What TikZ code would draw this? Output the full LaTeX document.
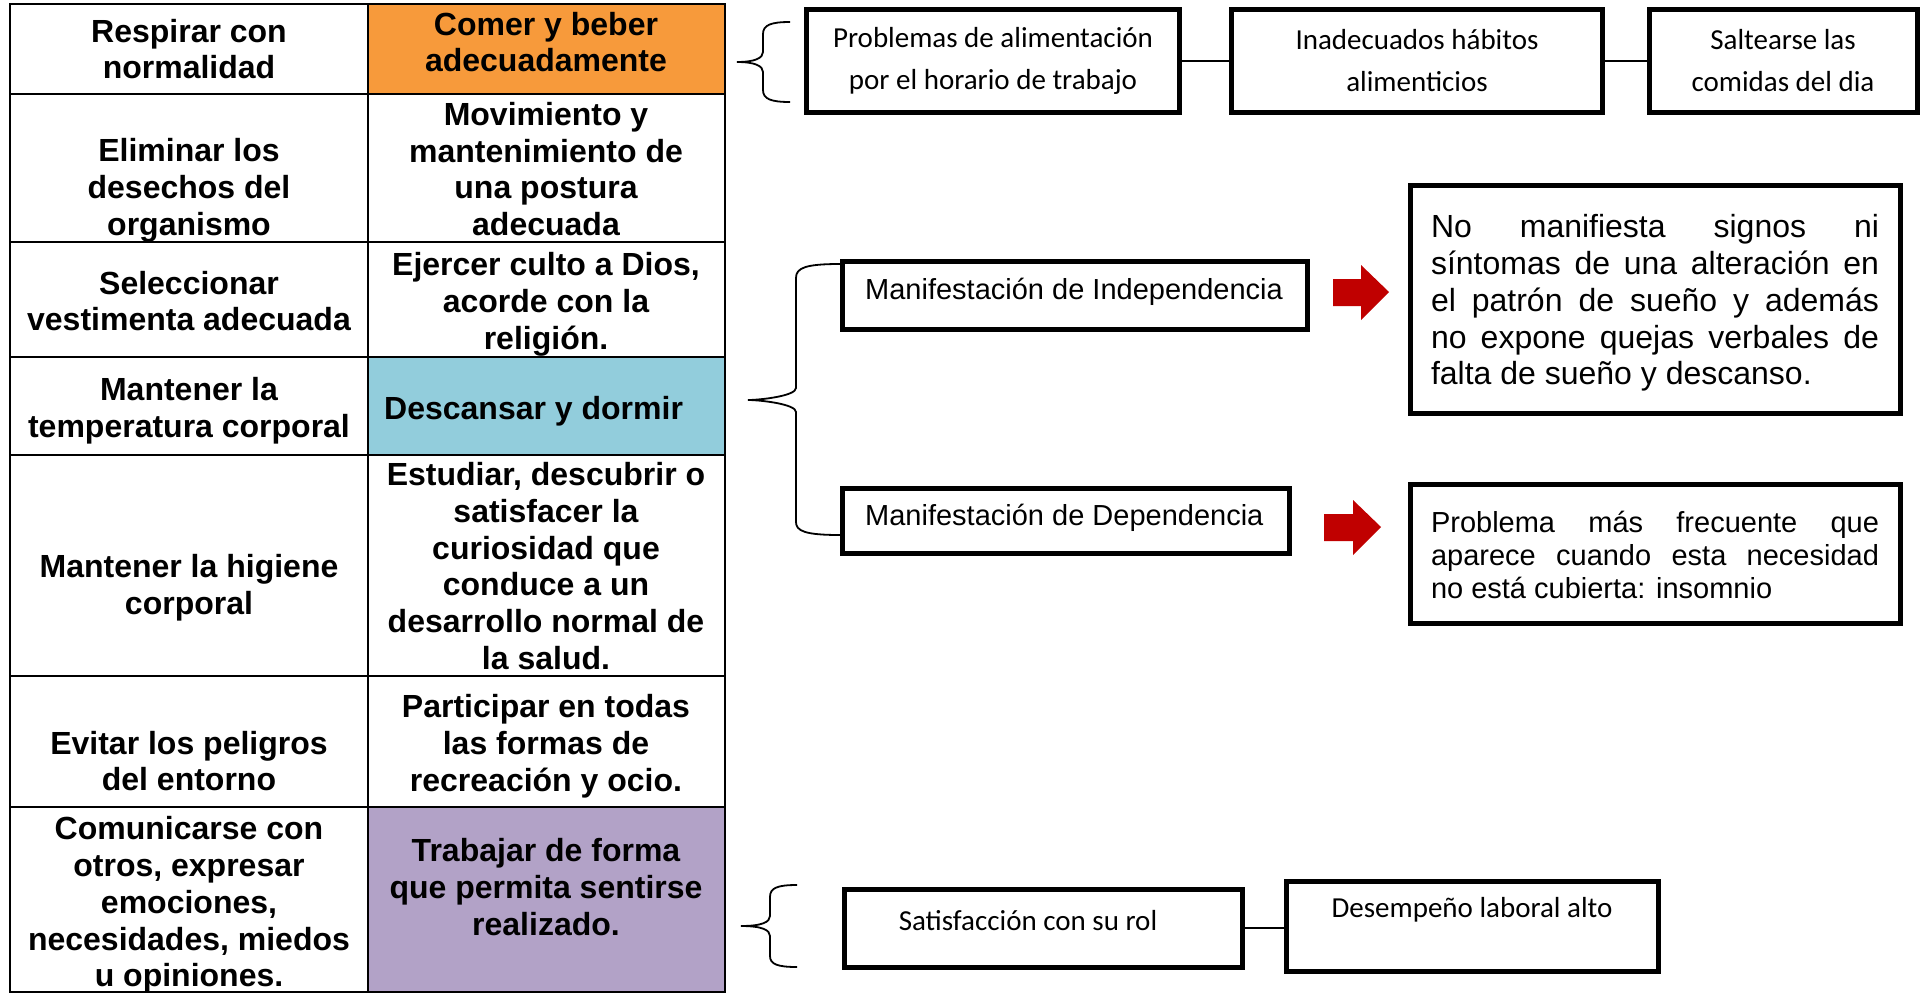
\documentclass[tikz,border=0pt]{standalone}
\usepackage{fontspec}
\setmainfont{Liberation Sans}
\newfontfamily\carl{Carlito}
\definecolor{orangec}{HTML}{F79A3B}
\definecolor{bluec}{HTML}{92CDDC}
\definecolor{purplec}{HTML}{B2A2C7}
\definecolor{arrowred}{HTML}{C00000}
\begin{document}
\begin{tikzpicture}[x=1pt,y=-1pt,
  cellt/.style={font=\fontsize{32}{36.8}\selectfont\bfseries, align=center, inner sep=0pt},
  gridl/.style={line width=2.6pt},
  cbox/.style={draw, line width=5pt, inner sep=0pt},
  ctext/.style={font=\carl\fontsize{29}{42}\selectfont, align=center, inner sep=0pt},
  mtext/.style={font=\fontsize{29}{34}\selectfont, inner sep=0pt, anchor=west},
  conn/.style={line width=2pt},
  bracel/.style={line width=1.8pt},
  redarrow/.style={fill=arrowred}]
\useasboundingbox (0,0) rectangle (1924,993);
% table
\fill[orangec] (368,4) rectangle (725,94);
\fill[bluec] (368,357) rectangle (725,455);
\fill[purplec] (368,807) rectangle (725,993);
\draw[gridl] (10,4) rectangle (725,992);
\draw[gridl] (368,4) -- (368,992);
\foreach \yy in {94,242,357,455,676,807} \draw[gridl] (10,\yy) -- (725,\yy);
\node[cellt] (l1) at (189,49) {Respirar con\\normalidad};
\node[cellt] (r1) at (546,42) {Comer y beber\\adecuadamente};
\node[cellt] (l2) at (189,190) {Eliminar los\\desechos del\\organismo};
\node[cellt] (r2) at (546,169) {Movimiento y\\mantenimiento de\\una postura\\adecuada};
\node[cellt] (l3) at (189,301) {Seleccionar\\vestimenta adecuada};
\node[cellt] (r3) at (546,304) {Ejercer culto a Dios,\\acorde con la\\religión.};
\node[cellt] (l4) at (189,411) {Mantener la\\temperatura corporal};
\node[cellt, anchor=west] (r4) at (384,411) {Descansar y dormir};
\node[cellt] (l5) at (189,588) {Mantener la higiene\\corporal};
\node[cellt] (r5) at (546,566) {Estudiar, descubrir o\\satisfacer la\\curiosidad que\\conduce a un\\desarrollo normal de\\la salud.};
\node[cellt] (l6) at (189,761) {Evitar los peligros\\del entorno};
\node[cellt] (r6) at (546,746) {Participar en todas\\las formas de\\recreación y ocio.};
\node[cellt] (l7) at (189,905) {Comunicarse con\\otros, expresar\\emociones,\\necesidades, miedos\\u opiniones.};
\node[cellt] (r7) at (546,887) {Trabajar de forma\\que permita sentirse\\realizado.};
% top row
\node[cbox, minimum width=373, minimum height=103] (p1) at (993,61) {};
\node[cbox, minimum width=371, minimum height=103] (p2) at (1417,61) {};
\node[cbox, minimum width=268, minimum height=103] (p3) at (1783,61) {};
\node[ctext] (p1t) at (993,61) {Problemas de alimentación\\por el horario de trabajo};
\node[ctext] (p2t) at (1417,61) {Inadecuados hábitos\\alimenticios};
\node[ctext] (p3t) at (1783,61) {Saltearse las\\comidas del dia};
\draw[conn] (p1.east) -- (p2.west);
\draw[conn] (p2.east) -- (p3.west);
\coordinate (b1t) at (790,22);
\coordinate (b1b) at (790,102);
\coordinate (b1tip) at (737,62);
\draw[bracel] (b1t) .. controls (771,22) and (763,25) .. (763,34) -- (763,52)
  .. controls (763,58) and (755,62) .. (b1tip)
  .. controls (755,62) and (763,66) .. (763,72) -- (763,90)
  .. controls (763,99) and (771,102) .. (b1b);
% middle
\node[cbox, minimum width=465, minimum height=68] (m1) at (1075,295) {};
\node[cbox, minimum width=447, minimum height=65] (m2) at (1066,520.5) {};
\node[mtext] (m1t) at (865,292) {Manifestación de Independencia};
\node[mtext] (m2t) at (865,518) {Manifestación de Dependencia};
\coordinate (b2tip) at (748,400);
\draw[bracel] (m1.west |- 0,264) .. controls (805,264) and (796,268) .. (796,278) -- (796,388)
  .. controls (796,396) and (760,400) .. (b2tip)
  .. controls (760,400) and (796,404) .. (796,412) -- (796,522)
  .. controls (796,531) and (805,535) .. (m2.west |- 0,535);
\fill[redarrow] (1333,279) -- (1361,279) -- (1361,265) -- (1389,292) -- (1361,320) -- (1361,306) -- (1333,306) -- cycle;
\fill[redarrow] (1324,514) -- (1353,514) -- (1353,500) -- (1381,527) -- (1353,555) -- (1353,541) -- (1324,541) -- cycle;
\node[cbox, minimum width=490, minimum height=228] (d1) at (1655,299) {};
\node[cbox, minimum width=490, minimum height=139] (d2) at (1655,554) {};
\node[inner sep=0pt, text width=448, align=justify, font=\fontsize{32}{36.8}\selectfont] (d1t) at (1655,303)
  {\tolerance=10000 No manifiesta signos ni\linebreak síntomas de una alteración en\linebreak el patrón de sueño y además\linebreak no expone quejas verbales de\linebreak falta de sueño y descanso.};
\node[inner sep=0pt, text width=448, align=justify, font=\fontsize{29}{33}\selectfont] (d2t) at (1655,555)
  {\tolerance=10000 Problema más frecuente que\linebreak aparece cuando esta necesidad\linebreak no está cubierta: insomnio};
% bottom
\node[cbox, minimum width=398, minimum height=78] (s1) at (1043.5,928) {};
\node[cbox, minimum width=372, minimum height=90] (s2) at (1472,926) {};
\node[ctext] (s1t) at (1028,921) {Satisfacción con su rol};
\node[ctext] (s2t) at (1472,910) {Desempeño laboral alto};
\draw[conn] (s1.east) -- (s2.west |- s1.east);
\coordinate (b3t) at (797,885);
\coordinate (b3b) at (797,967);
\coordinate (b3tip) at (741,926);
\draw[bracel] (b3t) .. controls (777,885) and (770,888) .. (770,897) -- (770,916)
  .. controls (770,922) and (762,926) .. (b3tip)
  .. controls (762,926) and (770,930) .. (770,936) -- (770,956)
  .. controls (770,964) and (777,967) .. (b3b);
\end{tikzpicture}
\end{document}
